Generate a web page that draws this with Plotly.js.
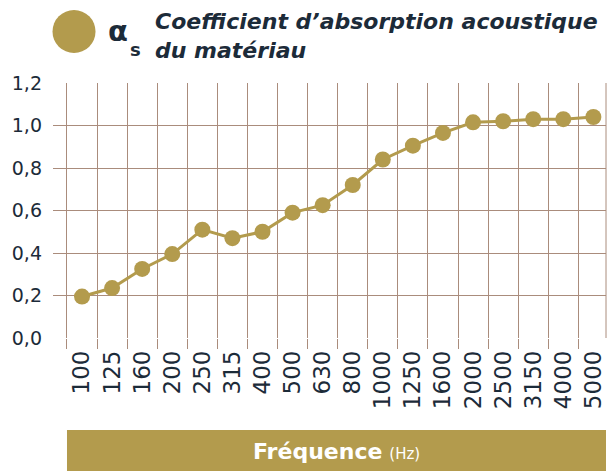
<!DOCTYPE html>
<html>
<head>
<meta charset="utf-8">
<script src="https://cdn.plot.ly/plotly-3.0.1.min.js"></script>
<style>html,body{margin:0;padding:0;background:#fff;}#chart{width:616px;height:471px;}</style>
</head>
<body>
<div id="chart"></div>
<script>
// Data
const frequencies = ['100','125','160','200','250','315','400','500','630','800','1000','1250','1600','2000','2500','3150','4000','5000'];
const absorption = [0.195, 0.235, 0.325, 0.395, 0.51, 0.47, 0.50, 0.59, 0.625, 0.72, 0.84, 0.905, 0.965, 1.015, 1.02, 1.03, 1.03, 1.04];
const yTicks = [0, 0.2, 0.4, 0.6, 0.8, 1.0, 1.2];
const titleText = 'Coefficient d’absorption acoustique<br>du matériau';
const axisLabel = 'Fréquence';
const axisUnit = '(Hz)';

const gold = '#b39b4d';
const grid = '#aa8c7c';
const ink = '#1c2b39';
const font = 'DejaVu Sans, sans-serif';

const trace = {
  type: 'scatter',
  mode: 'lines+markers',
  x: frequencies,
  y: absorption,
  line: {color: gold, width: 3},
  marker: {color: gold, size: 16},
  hoverinfo: 'x+y'
};

const layout = {
  width: 616, height: 471,
  margin: {l: 53, r: 10, t: 83, b: 133, pad: 0},
  paper_bgcolor: '#fff', plot_bgcolor: '#fff',
  separators: ', ',
  showlegend: false,
  font: {family: font, color: ink},
  title: {
    text: '<i><b>' + titleText + '</b></i>',
    font: {family: font, size: 22, color: ink},
    x: 155/616, xanchor: 'left', xref: 'container',
    y: 1 - 29/471, yanchor: 'top', yref: 'container'
  },
  xaxis: {
    type: 'category',
    range: [-0.965, 17.42],
    tickson: 'boundaries',
    showgrid: true, gridcolor: grid, gridwidth: 1,
    ticks: 'outside', ticklen: 10, tickcolor: grid, tickwidth: 1,
    tickangle: -90, ticklabelstandoff: 7,
    tickfont: {family: font, size: 23, color: ink},
    showline: false, zeroline: false,
    fixedrange: true
  },
  yaxis: {
    range: [0, 1.2],
    tickvals: yTicks,
    tickformat: '.1f',
    showgrid: true, gridcolor: grid, gridwidth: 1,
    ticks: '', ticklabelstandoff: 10,
    tickfont: {family: font, size: 19, color: ink},
    showline: false, zeroline: false,
    fixedrange: true
  },
  shapes: [
    {type: 'line', xref: 'paper', yref: 'paper', x0: 1, x1: 1, y0: 0, y1: 1,
     line: {color: grid, width: 1}},
    {type: 'circle', xref: 'paper', yref: 'paper',
     x0: -0.0009, x1: 0.0769, y0: 1.1176, y1: 1.2863,
     fillcolor: gold, line: {width: 0}},
    {type: 'rect', xref: 'paper', yref: 'paper',
     x0: 0.0253, x1: 1, y0: -0.5216, y1: -0.3608,
     fillcolor: gold, line: {width: 0}, layer: 'below'}
  ],
  annotations: [
    {xref: 'paper', yref: 'paper', x: 0.0958, y: 1.204, xanchor: 'left', yanchor: 'middle',
     text: '<b>α</b>', showarrow: false, font: {family: font, size: 29, color: ink}},
    {xref: 'paper', yref: 'paper', x: 0.1356, y: 1.133, xanchor: 'left', yanchor: 'middle',
     text: '<b>s</b>', showarrow: false, font: {family: font, size: 18, color: ink}},
    {xref: 'paper', yref: 'paper', x: 0.5127, y: -0.447, xanchor: 'center', yanchor: 'middle',
     text: '<b>' + axisLabel + '</b> <span style="font-size:15px">' + axisUnit + '</span>',
     showarrow: false, font: {family: font, size: 22, color: '#ffffff'}}
  ]
};

Plotly.newPlot('chart', [trace], layout, {displayModeBar: false, staticPlot: true});
</script>
</body>
</html>
